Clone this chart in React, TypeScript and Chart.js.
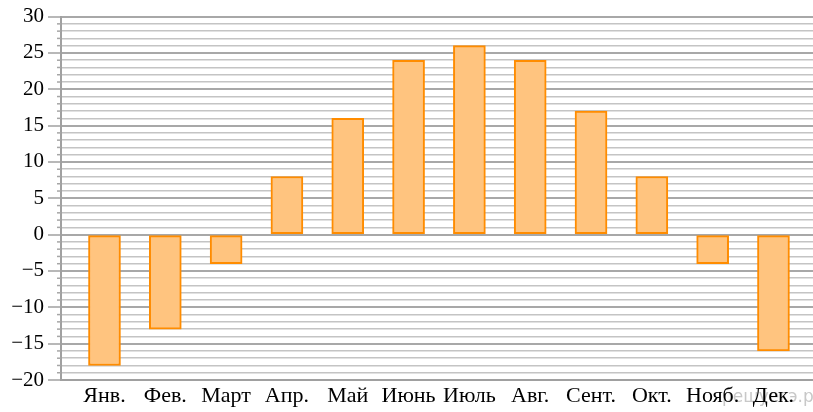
import React, { useEffect, useRef } from "react";
import { Chart, registerables } from "chart.js";

Chart.register(...registerables);

const months = ["Янв.", "Фев.", "Март", "Апр.", "Май", "Июнь", "Июль", "Авг.", "Сент.", "Окт.", "Нояб.", "Дек."];
const temps = [-18, -13, -4, 8, 16, 24, 26, 24, 17, 8, -4, -16];
const yMin = -20;
const yMax = 30;

const minorTicks = {
  id: "minorTicks",
  afterDraw(chart: any) {
    const y = chart.scales.y;
    const ctx = chart.ctx;
    ctx.save();
    ctx.strokeStyle = "#a6a6a6";
    ctx.lineWidth = 1.5;
    for (let v = yMin; v <= yMax; v++) {
      if (v % 5 === 0) continue;
      const py = y.getPixelForValue(v);
      ctx.beginPath();
      ctx.moveTo(chart.chartArea.left - 4, py);
      ctx.lineTo(chart.chartArea.left, py);
      ctx.stroke();
    }
    ctx.restore();
  },
};

export default function App() {
  const ref = useRef<HTMLCanvasElement>(null);
  useEffect(() => {
    const chart = new Chart(ref.current!, {
      type: "bar",
      data: {
        datasets: [
          {
            data: temps.map((t, i) => ({ x: i, y: t })),
            backgroundColor: "#ffc47f",
            borderColor: "#ff8c00",
            borderWidth: 2,
            borderSkipped: false,
            barThickness: 32,
          } as any,
        ],
      },
      plugins: [minorTicks],
      options: {
        animation: false,
        responsive: false,
        layout: { padding: { top: 15, right: 0, left: 0, bottom: 0 } },
        plugins: { legend: { display: false }, tooltip: { enabled: false } },
        scales: {
          x: {
            type: "linear",
            offset: false,
            min: -0.715,
            max: 11.65,
            afterBuildTicks: (s: any) => {
              s.ticks = months.map((_, i) => ({ value: i }));
            },
            afterFit: (s: any) => {
              s.height = 32;
            },
            ticks: {
              autoSkip: false,
              maxRotation: 0,
              padding: 3,
              color: "#000",
              font: { family: "Liberation Serif", size: 22 },
              callback: (v: any) => months[v] ?? "",
            },
            grid: { display: false, drawTicks: false, offset: false },
            border: { display: true, color: "#a0a0a0", width: 2 },
          },
          y: {
            min: yMin,
            max: yMax,
            afterFit: (s: any) => {
              s.width = 61;
            },
            ticks: {
              stepSize: 1,
              autoSkip: false,
              padding: 4,
              color: "#000",
              font: { family: "Liberation Serif", size: 21 },
              callback: (v: any) => (v % 5 === 0 ? String(v).replace("-", "−") : ""),
            },
            grid: {
              color: (c: any) => (c.tick && c.tick.value % 5 === 0 ? "#a8a8a8" : "#c4c4c4"),
              lineWidth: (c: any) => (c.tick && c.tick.value % 5 === 0 ? 2 : 1.5),
              tickLength: 13,
              tickColor: (c: any) => (c.tick && c.tick.value % 5 === 0 ? "#a0a0a0" : "transparent"),
              tickWidth: 1.5,
            },
            border: { display: true, color: "#a0a0a0", width: 2 },
          },
        },
      },
    });
    return () => chart.destroy();
  }, []);
  return (
    <div style={{ position: "fixed", left: 0, top: 0, width: 813, height: 412, background: "#fff" }}>
      <span
        style={{
          position: "absolute",
          left: 722,
          top: 386,
          fontFamily: "DejaVu Sans",
          fontSize: 17,
          color: "#c8c8c8",
        }}
      >
        решуегэ.рф
      </span>
      <canvas ref={ref} width={813} height={412} style={{ position: "absolute", left: 0, top: 0 }} />
    </div>
  );
}
